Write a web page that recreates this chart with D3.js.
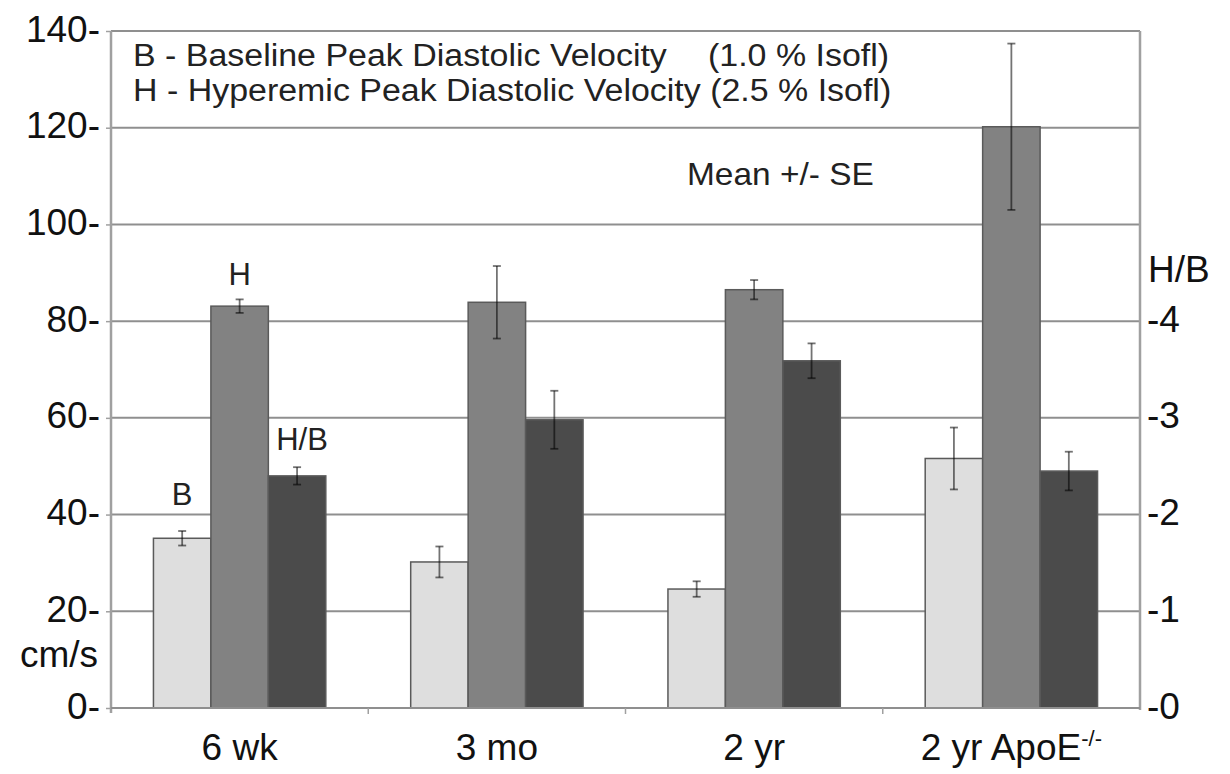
<!DOCTYPE html>
<html>
<head>
<meta charset="utf-8">
<script src="https://cdn.jsdelivr.net/npm/d3@7"></script>
<style>
  html, body { margin: 0; padding: 0; background: #fff; }
  svg text { font-family: "Liberation Sans", Arial, Helvetica, sans-serif; }
</style>
</head>
<body>
<svg id="chart" width="1230" height="774"></svg>
<script>
// ---- data ----
const categories = ["6 wk", "3 mo", "2 yr", "2 yr ApoE"];
const baseline = [35.1, 30.2, 24.6, 51.6];      // cm/s
const baselineSE = [1.5, 3.2, 1.6, 6.4];
const hyperemic = [83.1, 83.9, 86.5, 120.2];    // cm/s
const hyperemicSE = [1.4, 7.5, 2.0, 17.2];
const ratioHB = [2.40, 2.98, 3.59, 2.45];        // H/B
const ratioSE = [0.09, 0.30, 0.18, 0.20];
const leftTicks = [0, 20, 40, 60, 80, 100, 120, 140];
const rightTicks = [0, 1, 2, 3, 4];
const seriesKeys = ["B", "H", "HB"];
const seriesColors = { B: "#dedede", H: "#828282", HB: "#4b4b4b" };

const FONT = "Liberation Sans";

// ---- layout ----
const svg = d3.select("#chart");
const L = 111, R = 1140, T = 31, B = 708;

const x0 = d3.scaleBand().domain(categories).range([L, R]).paddingInner(0.33).paddingOuter(0.165);
const x1 = d3.scaleBand().domain(seriesKeys).range([0, x0.bandwidth()]).padding(0);
const yL = d3.scaleLinear().domain([0, 140]).range([B, T]);
const yR = d3.scaleLinear().domain([0, 7]).range([B, T]);

const rows = categories.map((c, i) => ({
  cat: c,
  bars: [
    { key: "B", scale: yL, v: baseline[i], e: baselineSE[i] },
    { key: "H", scale: yL, v: hyperemic[i], e: hyperemicSE[i] },
    { key: "HB", scale: yR, v: ratioHB[i], e: ratioSE[i] }
  ]
}));

// gridlines
svg.append("g").selectAll("line").data(leftTicks.filter(d => d > 0))
  .join("line")
  .attr("x1", L).attr("x2", R)
  .attr("y1", d => yL(d)).attr("y2", d => yL(d))
  .attr("stroke", "#8f8f8f").attr("stroke-width", 2);

// bars
const g = svg.append("g").selectAll("g").data(rows).join("g")
  .attr("transform", d => `translate(${x0(d.cat)},0)`);

g.selectAll("rect").data(d => d.bars).join("rect")
  .attr("x", d => x1(d.key))
  .attr("width", x1.bandwidth())
  .attr("y", d => d.scale(d.v))
  .attr("height", d => B - d.scale(d.v))
  .attr("fill", d => seriesColors[d.key])
  .attr("stroke", "#5a5a5a").attr("stroke-width", 1.5);

// error bars
const eb = g.selectAll("g.eb").data(d => d.bars).join("g").attr("class", "eb")
  .attr("stroke", "#000").attr("stroke-opacity", 0.55).attr("stroke-width", 1.8);
eb.append("line")
  .attr("x1", d => x1(d.key) + x1.bandwidth() / 2).attr("x2", d => x1(d.key) + x1.bandwidth() / 2)
  .attr("y1", d => d.scale(d.v + d.e)).attr("y2", d => d.scale(d.v - d.e));
eb.selectAll("line.cap").data(d => [[d, d.v + d.e], [d, d.v - d.e]]).join("line").attr("class", "cap")
  .attr("x1", d => x1(d[0].key) + x1.bandwidth() / 2 - 4)
  .attr("x2", d => x1(d[0].key) + x1.bandwidth() / 2 + 4)
  .attr("y1", d => d[0].scale(d[1])).attr("y2", d => d[0].scale(d[1]));

// frame: top border + axes
svg.append("line").attr("x1", L).attr("x2", R).attr("y1", T).attr("y2", T)
  .attr("stroke", "#8f8f8f").attr("stroke-width", 2);
svg.append("line").attr("x1", L).attr("x2", L).attr("y1", T).attr("y2", B + 5)
  .attr("stroke", "#a0a0a0").attr("stroke-width", 2.5);
svg.append("line").attr("x1", R).attr("x2", R).attr("y1", T).attr("y2", B + 2)
  .attr("stroke", "#a0a0a0").attr("stroke-width", 2.5);
svg.append("line").attr("x1", L).attr("x2", R).attr("y1", B).attr("y2", B)
  .attr("stroke", "#8f8f8f").attr("stroke-width", 2);

// category boundary ticks
const bounds = categories.slice(0, -1).map(c => x0(c) + x0.bandwidth() / 2 + x0.step() / 2);
svg.append("g").selectAll("line").data(bounds).join("line")
  .attr("x1", d => d).attr("x2", d => d).attr("y1", B).attr("y2", B + 6)
  .attr("stroke", "#a0a0a0").attr("stroke-width", 1.5);

// left axis
const leftAxis = d3.axisLeft(yL).tickValues(leftTicks).tickSize(5).tickPadding(6)
  .tickFormat(d => d + "-");
const la = svg.append("g").attr("transform", `translate(${L},0)`).call(leftAxis)
  .attr("font-family", FONT);
la.select(".domain").remove();
la.selectAll(".tick line").attr("stroke", "#a0a0a0").attr("stroke-width", 1.5);
la.selectAll(".tick text").attr("font-size", 37).attr("fill", "#111")
  .attr("dy", "0.27em").attr("font-family", FONT);

// right axis
const rightAxis = d3.axisRight(yR).tickValues(rightTicks).tickSize(0).tickPadding(7)
  .tickFormat(d => "-" + d);
const ra = svg.append("g").attr("transform", `translate(${R},0)`).call(rightAxis)
  .attr("font-family", FONT);
ra.select(".domain").remove();
ra.selectAll(".tick text").attr("font-size", 37).attr("fill", "#111")
  .attr("dy", "0.27em").attr("font-family", FONT);

// axis titles
svg.append("text").attr("x", 98).attr("y", 667).attr("text-anchor", "end")
  .attr("font-family", FONT).attr("font-size", 37).attr("fill", "#111").text("cm/s");
svg.append("text").attr("x", 1148).attr("y", 282)
  .attr("font-family", FONT).attr("font-size", 37).attr("fill", "#111").text("H/B");

// category labels
const cl = svg.append("g").selectAll("text").data(categories).join("text")
  .attr("x", d => x0(d) + x0.bandwidth() / 2).attr("y", 760)
  .attr("text-anchor", "middle").attr("font-family", FONT).attr("font-size", 37).attr("fill", "#111");
cl.append("tspan").text(d => d);
cl.filter((d, i) => i === categories.length - 1)
  .append("tspan").attr("dy", -14).attr("font-size", 22).text("-/-");

// legend text (slightly stretched horizontally, as in the original)
const SX = 1.095;
const legend = svg.append("g").attr("font-family", FONT).attr("fill", "#222")
  .attr("transform", `translate(133,0) scale(${SX},1)`);
legend.append("text").attr("x", 0).attr("y", 66).attr("font-size", 31)
  .text("B - Baseline Peak Diastolic Velocity");
legend.append("text").attr("x", (708 - 133) / SX).attr("y", 66).attr("font-size", 31)
  .text("(1.0 % Isofl)");
legend.append("text").attr("x", 0).attr("y", 101).attr("font-size", 31)
  .text("H - Hyperemic Peak Diastolic Velocity (2.5 % Isofl)");

svg.append("g").attr("transform", "translate(687,0) scale(1.045,1)")
  .append("text").attr("x", 0).attr("y", 185).attr("font-family", FONT)
  .attr("font-size", 32).attr("fill", "#222").text("Mean +/- SE");

// bar annotations on first group
const first = rows[0];
const ann = [
  { key: "B", label: "B", dx: 0, y: 505 },
  { key: "H", label: "H", dx: 0, y: 285 },
  { key: "HB", label: "H/B", dx: 5, y: 450 }
];
svg.append("g").selectAll("text").data(ann).join("text")
  .attr("x", d => x0(first.cat) + x1(d.key) + x1.bandwidth() / 2 + d.dx)
  .attr("y", d => d.y)
  .attr("text-anchor", "middle").attr("font-family", FONT).attr("font-size", 31).attr("fill", "#222")
  .text(d => d.label);
</script>
</body>
</html>
